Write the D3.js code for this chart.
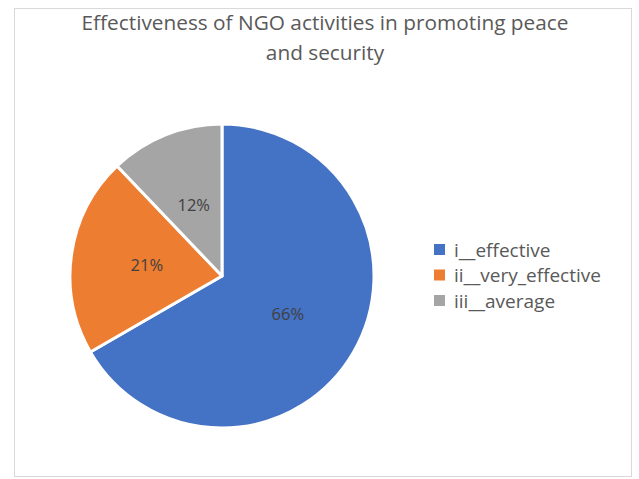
<!DOCTYPE html>
<html>
<head>
<meta charset="utf-8">
<script src="https://cdn.jsdelivr.net/npm/d3@7/dist/d3.min.js"></script>
<style>
  html, body { margin: 0; padding: 0; background: #ffffff; }
  svg { display: block; }
  text { font-family: "Open Sans", "Noto Sans", sans-serif; }
</style>
</head>
<body>
<svg id="chart" width="639" height="479"></svg>
<script>
// Survey responses, in percent
const categories = ["i__effective", "ii__very_effective", "iii__average"];
const values = [66, 21, 12];
const colors = ["#4472C4", "#ED7D31", "#A5A5A5"];
const titleLines = ["Effectiveness of NGO activities in promoting peace", "and security"];

const svg = d3.select("#chart");

// chart frame
svg.append("rect")
  .attr("x", 14.5).attr("y", 8.5)
  .attr("width", 617).attr("height", 468)
  .attr("fill", "#ffffff")
  .attr("stroke", "#d9d9d9")
  .attr("stroke-width", 1);

// title
svg.append("g").selectAll("text")
  .data(titleLines)
  .join("text")
  .attr("x", 325)
  .attr("y", (d, i) => 30 + i * 30)
  .attr("text-anchor", "middle")
  .attr("fill", "#595959")
  .attr("font-size", 20.8)
  .text(d => d);

// pie
const cx = 222, cy = 276, r = 152;
const color = d3.scaleOrdinal().domain(categories).range(colors);
const data = categories.map((c, i) => ({ name: c, value: values[i] }));
const pie = d3.pie().sort(null).value(d => d.value);
const arcs = pie(data);
const arc = d3.arc().innerRadius(0).outerRadius(r);
const labelArc = d3.arc().innerRadius(r * 0.5).outerRadius(r * 0.5);

const g = svg.append("g").attr("transform", `translate(${cx},${cy})`);
g.selectAll("path")
  .data(arcs)
  .join("path")
  .attr("d", arc)
  .attr("fill", d => color(d.data.name))
  .attr("stroke", "#ffffff")
  .attr("stroke-width", 3)
  .attr("stroke-linejoin", "round");

g.selectAll("text")
  .data(arcs)
  .join("text")
  .attr("transform", d => `translate(${labelArc.centroid(d)})`)
  .attr("text-anchor", "middle")
  .attr("dy", "0.35em")
  .attr("fill", "#404040")
  .attr("font-size", 16.5)
  .text(d => d.data.value + "%");

// legend
const legend = svg.append("g").attr("transform", "translate(434,250)");
const rows = legend.selectAll("g")
  .data(categories)
  .join("g")
  .attr("transform", (d, i) => `translate(0,${i * 25.5})`);
rows.append("rect")
  .attr("x", 0).attr("y", -6)
  .attr("width", 11).attr("height", 11)
  .attr("fill", d => color(d));
rows.append("text")
  .attr("x", 20).attr("y", 0)
  .attr("dy", "0.35em")
  .attr("fill", "#595959")
  .attr("font-size", 19)
  .text(d => d);
</script>
</body>
</html>
